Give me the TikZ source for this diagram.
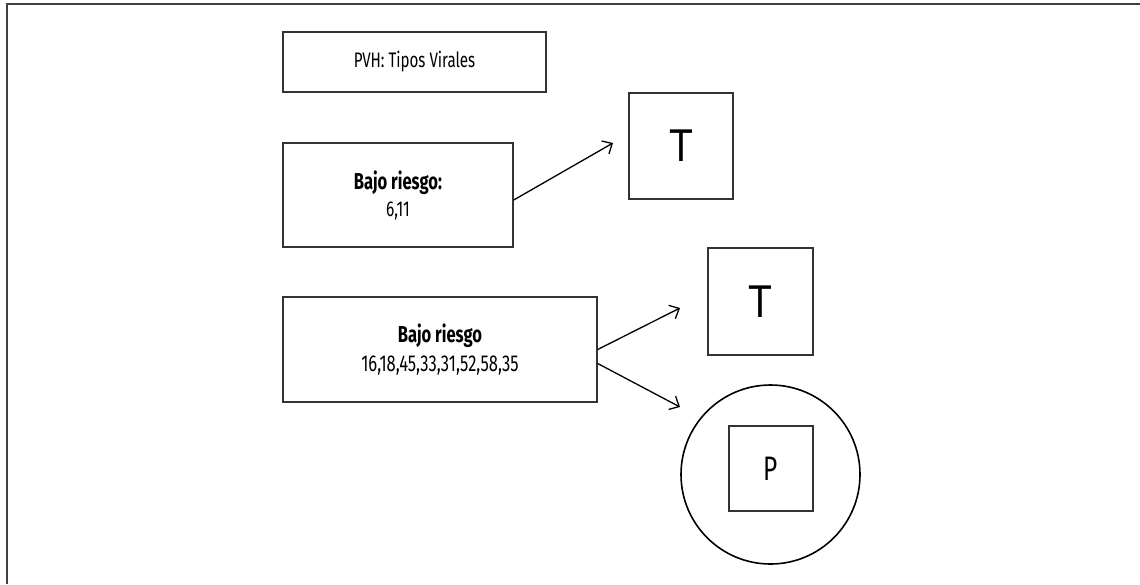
\documentclass[tikz,border=0pt]{standalone}
\usepackage{fontspec}
\setmainfont{Fira Sans}[FakeStretch=0.72]
\newfontfamily\tfont{Liberation Sans}[FakeStretch=0.85]
\usetikzlibrary{arrows.meta}
\begin{document}
\begin{tikzpicture}[x=1pt,y=-1pt,
  box/.style={draw=black!80,line width=1.4pt,rectangle,inner sep=0pt,align=center},
  conn/.style={line width=1.3pt,-{Straight Barb[length=8pt,width=15pt,line width=1.3pt]}}]
\useasboundingbox (0,0) rectangle (1140,584);
\draw[black!75,line width=2pt] (7,584) -- (7,4) -- (1140,4);
\node[box,minimum width=263pt,minimum height=60pt,font=\fontsize{21}{26}\selectfont] (b1) at (414.5,62) {PVH: Tipos Virales};
\node[box,minimum width=230pt,minimum height=104pt,font=\fontsize{21.5}{27}\selectfont] (b2) at (398,195) {{\fontsize{23}{27}\selectfont\textbf{Bajo riesgo:}}\\6,11};
\node[box,minimum width=314pt,minimum height=105pt,font=\fontsize{23}{29}\selectfont] (b3) at (440,349.5) {\textbf{Bajo riesgo}\\16,18,45,33,31,52,58,35};
\node[box,minimum width=104pt,minimum height=106pt,font=\tfont\fontsize{46}{46}\selectfont] (t1) at (681,146) {T};
\node[box,minimum width=105pt,minimum height=107pt,font=\tfont\fontsize{46}{46}\selectfont] (t2) at (760.5,301.5) {T};
\node[draw,circle,line width=1.6pt,minimum size=179pt,inner sep=0pt] (c) at (770.5,474.5) {};
\node[box,minimum width=84pt,minimum height=85pt,font=\fontsize{34}{34}\selectfont] (p) at (771,468.5) {P};
\coordinate (e1) at (613,143);
\coordinate (e2) at (680,308);
\coordinate (e3) at (680,407);
\draw[conn] ([yshift=-5pt]b2.east) -- (e1);
\draw[conn] (b3.east) -- (e2);
\draw[conn] ([yshift=-14pt]b3.east) -- (e3);
\end{tikzpicture}
\end{document}
